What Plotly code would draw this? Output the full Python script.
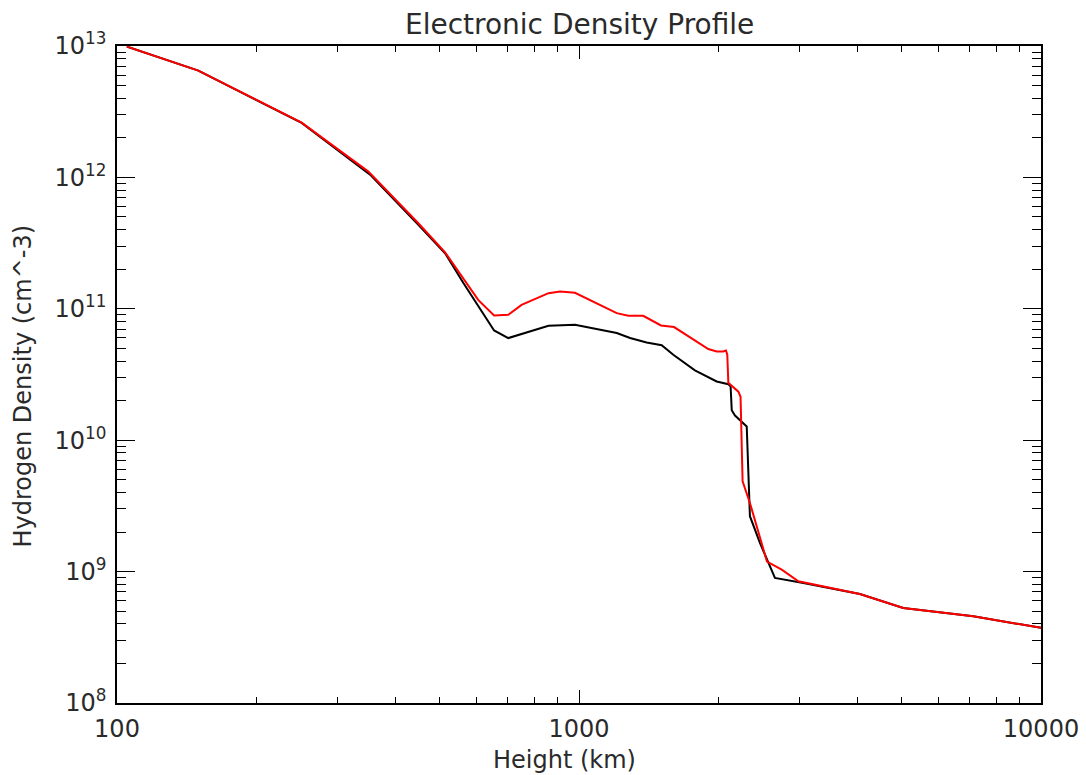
import plotly.graph_objects as go

# Height (km) and density (cm^-3)
black_x = [105, 150, 251, 353, 449, 513, 562, 655, 703, 859, 980, 1074, 1207, 1290,
           1401, 1510, 1600, 1782, 1986, 2105, 2129, 2141, 2176, 2307, 2344, 2465,
           2655, 3059, 4055, 5033, 7137, 10000]
black_y = [9.9e12, 6.49e12, 2.6e12, 1.05e12, 4.35e11, 2.65e11, 1.57e11, 6.84e10,
           5.99e10, 7.42e10, 7.55e10, 7.05e10, 6.54e10, 5.99e10, 5.54e10, 5.28e10,
           4.47e10, 3.40e10, 2.80e10, 2.67e10, 2.56e10, 1.69e10, 1.54e10, 1.27e10,
           2.64e9, 1.65e9, 8.95e8, 8.2e8, 6.76e8, 5.29e8, 4.57e8, 3.73e8]

red_x = [105, 150, 251, 350, 449, 513, 605, 655, 703, 751, 859, 910, 980, 1207, 1279,
         1377, 1505, 1606, 1905, 1986, 2052, 2080, 2094, 2105, 2213, 2237, 2260, 2344,
         2552, 2747, 2984, 4055, 5033, 7137, 10000]
red_y = [9.9e12, 6.49e12, 2.61e12, 1.107e12, 4.48e11, 2.69e11, 1.17e11, 8.89e10,
         9.0e10, 1.07e11, 1.315e11, 1.355e11, 1.325e11, 9.27e10, 8.85e10, 8.85e10,
         7.47e10, 7.26e10, 4.94e10, 4.74e10, 4.74e10, 4.82e10, 4.47e10, 2.74e10,
         2.34e10, 2.14e10, 4.87e9, 3.33e9, 1.19e9, 1.036e9, 8.44e8, 6.76e8, 5.29e8,
         4.57e8, 3.73e8]

x_tickvals = [100, 1000, 10000]
x_ticktext = ["100", "1000", "10000"]
y_tickvals = [1e8, 1e9, 1e10, 1e11, 1e12, 1e13]
y_ticktext = ["10<sup>8</sup>", "10<sup>9</sup>", "10<sup>10</sup>",
              "10<sup>11</sup>", "10<sup>12</sup>", "10<sup>13</sup>"]

FONT = "DejaVu Sans, sans-serif"
TXT = "#2a2a2a"

fig = go.Figure()
fig.add_trace(go.Scatter(x=black_x, y=black_y, mode="lines",
                         line=dict(color="black", width=2), showlegend=False))
fig.add_trace(go.Scatter(x=red_x, y=red_y, mode="lines",
                         line=dict(color="#ff0000", width=2), showlegend=False))

fig.update_layout(
    width=1086, height=775,
    margin=dict(l=117, r=45, t=46, b=72, autoexpand=False),
    paper_bgcolor="white", plot_bgcolor="white",
    font=dict(family=FONT, size=22, color=TXT),
    annotations=[
        dict(text="Electronic Density Profile", xref="paper", yref="paper",
             x=0.5, y=1, yshift=22, showarrow=False, xanchor="center", yanchor="middle",
             font=dict(size=28, family=FONT, color=TXT)),
        dict(text="Height (km)", xref="paper", yref="paper",
             x=(564 - 117) / 924, y=0, yshift=-57, showarrow=False,
             xanchor="center", yanchor="middle",
             font=dict(size=24, family=FONT, color=TXT)),
        dict(text="Hydrogen Density (cm^-3)", xref="paper", yref="paper",
             x=0, xshift=-95, y=0.5, yshift=-12, showarrow=False, textangle=-90,
             xanchor="center", yanchor="middle",
             font=dict(size=24, family=FONT, color=TXT)),
    ],
)

fig.update_xaxes(
    type="log", range=[2, 4], automargin=False,
    tickvals=x_tickvals, ticktext=x_ticktext,
    ticks="inside", ticklen=13, tickwidth=1, tickcolor="black",
    minor=dict(ticks="inside", ticklen=6, tickwidth=1, tickcolor="black", dtick="D1", showgrid=False),
    showline=True, linecolor="black", linewidth=1.5, mirror="ticks",
    showgrid=False, zeroline=False, ticklabelstandoff=3,
    tickfont=dict(size=24, family=FONT, color=TXT),
)
fig.update_yaxes(
    type="log", range=[8, 13], automargin=False,
    tickvals=y_tickvals, ticktext=y_ticktext,
    ticks="inside", ticklen=18, tickwidth=1, tickcolor="black",
    minor=dict(ticks="inside", ticklen=9, tickwidth=1, tickcolor="black", dtick="D1", showgrid=False),
    showline=True, linecolor="black", linewidth=1.5, mirror="ticks",
    showgrid=False, zeroline=False, ticklabelstandoff=4,
    tickfont=dict(size=24, family=FONT, color=TXT),
)

fig.write_html("out.html")
